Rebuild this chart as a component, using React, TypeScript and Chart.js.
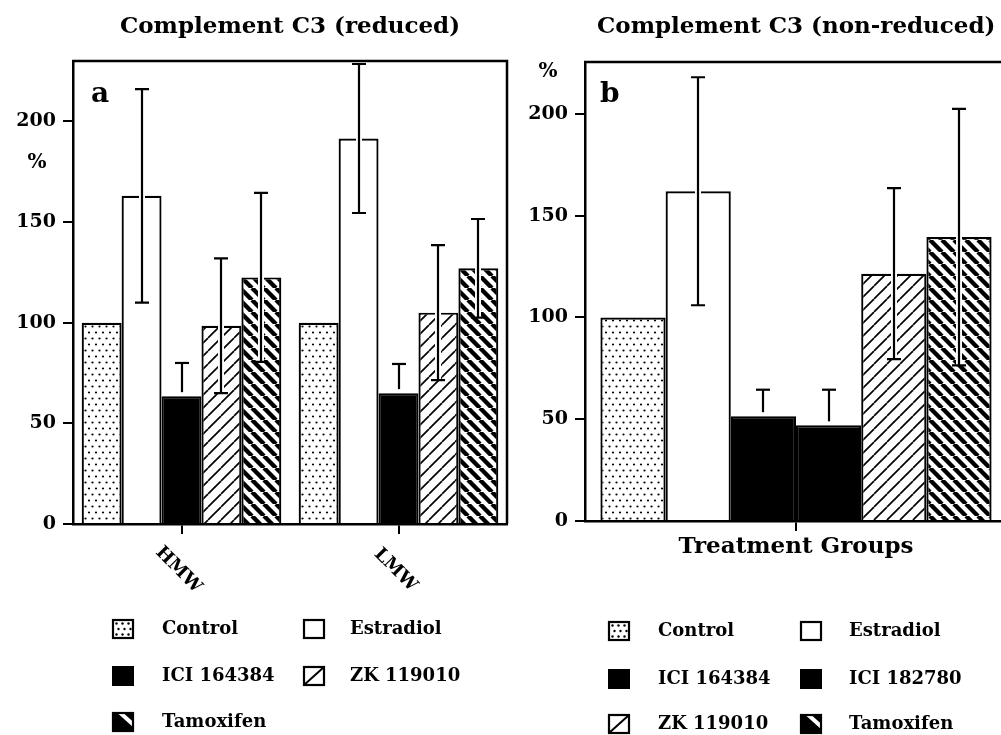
import React, { useEffect, useRef } from "react";
import { Chart, registerables } from "chart.js";
Chart.register(...registerables);

const FONT = "'DejaVu Serif', 'Liberation Serif', serif";

// ---------- Panel a : Complement C3 (reduced) ----------
const categoriesA = ["HMW", "LMW"];
const seriesNamesA = ["Control", "Estradiol", "ICI 164384", "ZK 119010", "Tamoxifen"];
const controlA = [100, 100];
const estradiolA = [163, 191.5];
const estradiolErrA = [53, 37];
const ici164384A = [63.5, 65];
const ici164384ErrA = [16.5, 14.5];
const zk119010A = [98.5, 105];
const zk119010ErrA = [33.5, 33.5];
const tamoxifenA = [122.5, 127];
const tamoxifenErrA = [42, 24.5];
const yTicksA = [0, 50, 100, 150, 200];

// ---------- Panel b : Complement C3 (non-reduced) ----------
const categoriesB = ["Treatment Groups"];
const seriesNamesB = ["Control", "Estradiol", "ICI 164384", "ICI 182780", "ZK 119010", "Tamoxifen"];
const controlB = [100];
const estradiolB = [162];
const estradiolErrB = [56];
const ici164384B = [51.5];
const ici164384ErrB = [13];
const ici182780B = [47];
const ici182780ErrB = [17.5];
const zk119010B = [121.5];
const zk119010ErrB = [42];
const tamoxifenB = [139.5];
const tamoxifenErrB = [63];
const yTicksB = [0, 50, 100, 150, 200];

type Fill = "dots" | "white" | "solid" | "slash" | "stripe";

function makeFill(kind: Fill): any {
  if (kind === "white") return "#fff";
  if (kind === "solid") return "#000";
  const c = document.createElement("canvas");
  const g = c.getContext("2d")!;
  if (kind === "dots") {
    c.width = 7;
    c.height = 12;
    g.fillStyle = "#fff";
    g.fillRect(0, 0, 7, 12);
    g.fillStyle = "#000";
    g.beginPath();
    g.arc(1.5, 2.5, 1.1, 0, Math.PI * 2);
    g.fill();
    g.beginPath();
    g.arc(5, 8.5, 1.1, 0, Math.PI * 2);
    g.fill();
  } else if (kind === "slash") {
    const s = 13;
    c.width = s;
    c.height = s;
    g.fillStyle = "#fff";
    g.fillRect(0, 0, s, s);
    g.strokeStyle = "#000";
    g.lineWidth = 1.7;
    for (const o of [-s, 0, s]) {
      g.beginPath();
      g.moveTo(o, s);
      g.lineTo(o + s, 0);
      g.stroke();
    }
  } else {
    const s = 12;
    c.width = s;
    c.height = s;
    g.fillStyle = "#fff";
    g.fillRect(0, 0, s, s);
    g.strokeStyle = "#000";
    g.lineWidth = 4.4;
    for (const o of [-s, 0, s]) {
      g.beginPath();
      g.moveTo(o, 0);
      g.lineTo(o + s, s);
      g.stroke();
    }
  }
  return g.createPattern(c, "repeat");
}

function drawSwatch(ctx: CanvasRenderingContext2D, x: number, y: number, w: number, h: number, kind: Fill) {
  ctx.save();
  ctx.lineWidth = 2;
  ctx.strokeStyle = "#000";
  if (kind === "solid") {
    ctx.fillStyle = "#000";
    ctx.fillRect(x, y, w, h);
  } else {
    ctx.fillStyle = "#fff";
    ctx.fillRect(x, y, w, h);
    ctx.beginPath();
    ctx.rect(x, y, w, h);
    ctx.clip();
    ctx.fillStyle = "#000";
    if (kind === "dots") {
      for (let r = 0; r < 3; r++) {
        for (let q = 0; q < 3; q++) {
          ctx.beginPath();
          ctx.arc(x + 4.5 + q * 6 + (r % 2) * 2, y + 4.5 + r * 5.5, 1.2, 0, Math.PI * 2);
          ctx.fill();
        }
      }
    } else if (kind === "slash") {
      ctx.beginPath();
      ctx.moveTo(x + 1, y + h - 1);
      ctx.lineTo(x + w - 1, y + 1);
      ctx.stroke();
    } else if (kind === "stripe") {
      ctx.fillStyle = "#000";
      ctx.fillRect(x, y, w, h);
      ctx.strokeStyle = "#fff";
      ctx.lineWidth = 4;
      ctx.beginPath();
      ctx.moveTo(x + 5, y - 2);
      ctx.lineTo(x + w + 2, y + h - 5);
      ctx.stroke();
    }
    ctx.restore();
    ctx.save();
    ctx.lineWidth = 2.2;
    ctx.strokeStyle = "#000";
    ctx.strokeRect(x + 1, y + 1, w - 2, h - 2);
  }
  ctx.restore();
}

type PanelDecor = {
  title: string;
  titleX: number;
  titleY: number;
  titleAlign: CanvasTextAlign;
  letter: string;
  letterX: number;
  letterY: number;
  percentX: number;
  percentY: number;
  rotatedLabels: boolean;
  legendSwatchX: number[];
  legendTextX: number[];
  legendRowY: number[];
  frameRight: boolean;
};

function decorPlugin(d: PanelDecor) {
  return {
    id: "panelDecor",
    afterDatasetsDraw(chart: any) {
      // error bars
      const ctx: CanvasRenderingContext2D = chart.ctx;
      const ys = chart.scales.y;
      chart.data.datasets.forEach((ds: any, di: number) => {
        const errs: number[] | undefined = ds.errors;
        if (!errs) return;
        const meta = chart.getDatasetMeta(di);
        meta.data.forEach((bar: any, i: number) => {
          const v = ds.data[i];
          const e = errs[i];
          if (!e) return;
          const x = Math.round(bar.x);
          const yTop = ys.getPixelForValue(v + e);
          const yBar = ys.getPixelForValue(v);
          const yLow = ys.getPixelForValue(v - e);
          const solid = ds.fillKind === "solid";
          const endY = solid ? yBar - 4 : yLow;
          ctx.save();
          ctx.lineCap = "butt";
          if (!solid) {
            ctx.strokeStyle = "#fff";
            ctx.lineWidth = 6;
            ctx.beginPath();
            ctx.moveTo(x, yTop);
            ctx.lineTo(x, endY);
            ctx.stroke();
          }
          ctx.strokeStyle = "#000";
          ctx.lineWidth = 2.2;
          ctx.beginPath();
          ctx.moveTo(x, yTop);
          ctx.lineTo(x, endY);
          ctx.stroke();
          ctx.beginPath();
          ctx.moveTo(x - 7, yTop);
          ctx.lineTo(x + 7, yTop);
          if (!solid) {
            ctx.moveTo(x - 7, yLow);
            ctx.lineTo(x + 7, yLow);
          }
          ctx.stroke();
          ctx.restore();
        });
      });
    },
    afterDraw(chart: any) {
      const ctx: CanvasRenderingContext2D = chart.ctx;
      const a = chart.chartArea;
      ctx.save();
      // frame (top / right)
      ctx.strokeStyle = "#000";
      ctx.lineWidth = 2.5;
      ctx.beginPath();
      ctx.moveTo(a.left - 1, a.top);
      ctx.lineTo(a.right, a.top);
      if (d.frameRight) ctx.lineTo(a.right, a.bottom);
      ctx.stroke();

      ctx.fillStyle = "#000";
      // title
      ctx.font = `bold 23px ${FONT}`;
      ctx.textAlign = d.titleAlign;
      ctx.textBaseline = "middle";
      ctx.fillText(d.title, d.titleX, d.titleY);
      // panel letter
      ctx.font = `bold 28px ${FONT}`;
      ctx.textAlign = "left";
      ctx.textBaseline = "alphabetic";
      ctx.fillText(d.letter, d.letterX, d.letterY);
      // percent label
      ctx.font = `bold 20px ${FONT}`;
      ctx.textAlign = "center";
      ctx.textBaseline = "middle";
      ctx.fillText("%", d.percentX, d.percentY);

      // rotated category labels
      if (d.rotatedLabels) {
        const xs = chart.scales.x;
        ctx.font = `bold 18px ${FONT}`;
        chart.data.labels.forEach((lab: string, i: number) => {
          const px = xs.getPixelForValue(i);
          ctx.save();
          ctx.translate(px - 3, a.bottom + 46);
          ctx.rotate(Math.PI / 4);
          ctx.textAlign = "center";
          ctx.textBaseline = "middle";
          ctx.fillText(lab, 0, 0);
          ctx.restore();
        });
      }

      // legend
      ctx.font = `bold 18px ${FONT}`;
      ctx.textAlign = "left";
      ctx.textBaseline = "middle";
      chart.data.datasets.forEach((ds: any, k: number) => {
        const col = k % 2;
        const row = Math.floor(k / 2);
        const cy = d.legendRowY[row];
        drawSwatch(ctx, d.legendSwatchX[col], cy - 10, 22, 20, ds.fillKind);
        ctx.fillStyle = "#000";
        ctx.fillText(ds.label, d.legendTextX[col], cy);
      });
      ctx.restore();
    },
  };
}

function barSet(label: string, data: number[], errors: number[] | null, kind: Fill) {
  return {
    label,
    data,
    errors,
    fillKind: kind,
    backgroundColor: makeFill(kind),
    borderColor: "#000",
    borderWidth: 2.2,
  };
}

function baseOptions(opts: {
  yMax: number;
  yTicks: number[];
  yWidth: number;
  xHeight: number;
  padTop: number;
  padRight: number;
  catPct: number;
  showXTicks: boolean;
}) {
  return {
    responsive: false,
    animation: false,
    devicePixelRatio: 1,
    layout: { padding: { top: opts.padTop, left: 0, right: opts.padRight, bottom: 0 } },
    datasets: { bar: { categoryPercentage: opts.catPct, barPercentage: 1.0 } },
    plugins: { legend: { display: false }, tooltip: { enabled: false }, title: { display: false } },
    scales: {
      x: {
        type: "category",
        offset: true,
        grid: { drawOnChartArea: false, drawTicks: true, tickLength: 10, offset: false, color: "#000", lineWidth: 2 },
        border: { display: true, color: "#000", width: 2.5 },
        ticks: {
          display: opts.showXTicks,
          color: "#000",
          padding: 2,
          maxRotation: 0,
          font: { family: FONT, size: 23, weight: "bold" },
        },
        afterFit: (s: any) => {
          s.height = opts.xHeight;
        },
      },
      y: {
        min: 0,
        max: opts.yMax,
        grid: { drawOnChartArea: false, drawTicks: true, tickLength: 10, color: "#000", lineWidth: 2 },
        border: { display: true, color: "#000", width: 2.5 },
        ticks: { color: "#000", padding: 7, font: { family: FONT, size: 19, weight: "bold" } },
        afterBuildTicks: (s: any) => {
          s.ticks = opts.yTicks.map((v) => ({ value: v }));
        },
        afterFit: (s: any) => {
          s.width = opts.yWidth;
        },
      },
    },
  };
}

export default function App() {
  const refA = useRef<HTMLCanvasElement>(null);
  const refB = useRef<HTMLCanvasElement>(null);

  useEffect(() => {
    const chartA = new Chart(refA.current!, {
      type: "bar",
      data: {
        labels: categoriesA,
        datasets: [
          barSet(seriesNamesA[0], controlA, null, "dots"),
          barSet(seriesNamesA[1], estradiolA, estradiolErrA, "white"),
          barSet(seriesNamesA[2], ici164384A, ici164384ErrA, "solid"),
          barSet(seriesNamesA[3], zk119010A, zk119010ErrA, "slash"),
          barSet(seriesNamesA[4], tamoxifenA, tamoxifenErrA, "stripe"),
        ] as any,
      },
      options: baseOptions({
        yMax: 230,
        yTicks: yTicksA,
        yWidth: 73,
        xHeight: 211,
        padTop: 61,
        padRight: 3,
        catPct: 0.92,
        showXTicks: false,
      }) as any,
      plugins: [
        decorPlugin({
          title: "Complement C3 (reduced)",
          titleX: 290,
          titleY: 27,
          titleAlign: "center",
          letter: "a",
          letterX: 91,
          letterY: 102,
          percentX: 37,
          percentY: 163,
          rotatedLabels: true,
          legendSwatchX: [112, 303],
          legendTextX: [162, 350],
          legendRowY: [629, 676, 722],
          frameRight: true,
        }),
      ],
    });

    const chartB = new Chart(refB.current!, {
      type: "bar",
      data: {
        labels: categoriesB,
        datasets: [
          barSet(seriesNamesB[0], controlB, null, "dots"),
          barSet(seriesNamesB[1], estradiolB, estradiolErrB, "white"),
          barSet(seriesNamesB[2], ici164384B, ici164384ErrB, "solid"),
          barSet(seriesNamesB[3], ici182780B, ici182780ErrB, "solid"),
          barSet(seriesNamesB[4], zk119010B, zk119010ErrB, "slash"),
          barSet(seriesNamesB[5], tamoxifenB, tamoxifenErrB, "stripe"),
        ] as any,
      },
      options: baseOptions({
        yMax: 225.5,
        yTicks: yTicksB,
        yWidth: 75,
        xHeight: 214,
        padTop: 62,
        padRight: 23,
        catPct: 0.927,
        showXTicks: true,
      }) as any,
      plugins: [
        decorPlugin({
          title: "Complement C3 (non-reduced)",
          titleX: 87,
          titleY: 27,
          titleAlign: "left",
          letter: "b",
          letterX: 90,
          letterY: 102,
          percentX: 38,
          percentY: 72,
          rotatedLabels: false,
          legendSwatchX: [98, 290],
          legendTextX: [148, 339],
          legendRowY: [631, 679, 724],
          frameRight: true,
        }),
      ],
    });

    return () => {
      chartA.destroy();
      chartB.destroy();
    };
  }, []);

  return (
    <div
      style={{
        position: "absolute",
        left: 0,
        top: 0,
        width: 1001,
        height: 735,
        overflow: "hidden",
        background: "#fff",
      }}
    >
      <canvas
        ref={refA}
        width={510}
        height={735}
        style={{ position: "absolute", left: 0, top: 0, width: 510, height: 735 }}
      />
      <div style={{ position: "absolute", left: 510, top: 0, width: 491, height: 735, overflow: "hidden" }}>
        <canvas
          ref={refB}
          width={520}
          height={735}
          style={{ position: "absolute", left: 0, top: 0, width: 520, height: 735 }}
        />
      </div>
    </div>
  );
}
